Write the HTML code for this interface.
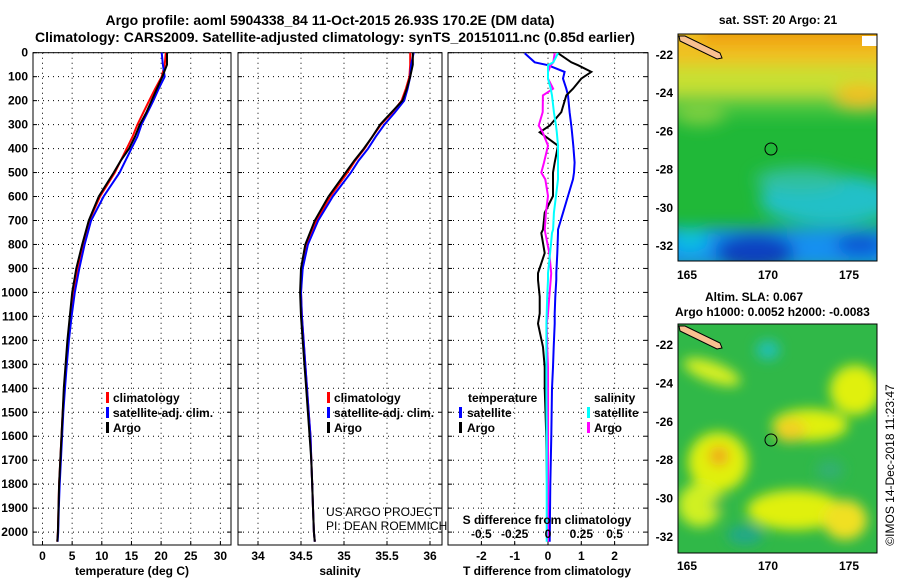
<!DOCTYPE html>
<html><head><meta charset="utf-8"><style>
body{margin:0;background:#fff}
svg{display:block;font-family:"Liberation Sans",sans-serif;font-weight:bold}
</style></head><body>
<svg id="fig" width="900" height="580" viewBox="0 0 900 580" xmlns="http://www.w3.org/2000/svg">
<defs>
<filter id="blur6"><feGaussianBlur stdDeviation="6"/></filter>
<filter id="blur10"><feGaussianBlur stdDeviation="8"/></filter>
<clipPath id="cTop"><rect x="678" y="34" width="199" height="227"/></clipPath>
<clipPath id="cBot"><rect x="678" y="324" width="199" height="229"/></clipPath>
</defs>
<text x="330" y="25" font-size="14" text-anchor="middle">Argo profile: aoml 5904338_84 11-Oct-2015 26.93S 170.2E (DM data)</text>
<text x="335" y="42" font-size="14" text-anchor="middle">Climatology: CARS2009. Satellite-adjusted climatology: synTS_20151011.nc (0.85d earlier)</text>

<g id="grids"></g>
<g id="lines"></g>
<g id="labels" font-size="12"></g>

<g font-size="12">
<rect x="106" y="392" width="3" height="11" fill="#f00"/><text x="113" y="402">climatology</text>
<rect x="106" y="407" width="3" height="11" fill="#00f"/><text x="113" y="417">satellite-adj. clim.</text>
<rect x="106" y="422" width="3" height="11" fill="#000"/><text x="113" y="432">Argo</text>
</g>
<g font-size="12">
<rect x="327" y="392" width="3" height="11" fill="#f00"/><text x="334" y="402">climatology</text>
<rect x="327" y="407" width="3" height="11" fill="#00f"/><text x="334" y="417">satellite-adj. clim.</text>
<rect x="327" y="422" width="3" height="11" fill="#000"/><text x="334" y="432">Argo</text>
</g>
<g font-size="12">
<text x="468" y="402">temperature</text>
<rect x="459" y="407" width="3" height="11" fill="#00f"/><text x="467" y="417">satellite</text>
<rect x="459" y="422" width="3" height="11" fill="#000"/><text x="467" y="432">Argo</text>
<text x="594" y="402">salinity</text>
<rect x="587" y="407" width="3" height="11" fill="#0ff"/><text x="594" y="417">satellite</text>
<rect x="587" y="422" width="3" height="11" fill="#f0f"/><text x="594" y="432">Argo</text>
</g>
<text x="326" y="516" font-size="12" font-weight="normal">US ARGO PROJECT</text>
<text x="326" y="530" font-size="12" font-weight="normal">PI: DEAN ROEMMICH</text>
<text x="547" y="524" font-size="12" text-anchor="middle">S difference from climatology</text>
<text x="132" y="575" font-size="12" text-anchor="middle">temperature (deg C)</text>
<text x="340" y="575" font-size="12" text-anchor="middle">salinity</text>
<text x="547" y="575" font-size="12" text-anchor="middle">T difference from climatology</text>

<text x="778" y="24" font-size="12" text-anchor="middle">sat. SST: 20 Argo: 21</text>
<g clip-path="url(#cTop)">
<rect x="678" y="34" width="199" height="227" fill="#20b838"/>
<g filter="url(#blur10)">
<rect x="660" y="90" width="240" height="25" fill="#50c840"/>
<rect x="660" y="60" width="240" height="35" fill="#c8e030"/>
<rect x="660" y="20" width="240" height="45" fill="#f0c020"/>
<rect x="700" y="20" width="180" height="25" fill="#f0a010"/>
<ellipse cx="700" cy="115" rx="25" ry="10" fill="#80d040"/>
<ellipse cx="860" cy="95" rx="25" ry="12" fill="#f0c020"/>
<ellipse cx="830" cy="200" rx="70" ry="25" fill="#20c0c8"/>
<ellipse cx="800" cy="180" rx="45" ry="12" fill="#30c0a0"/>
<rect x="660" y="228" width="240" height="40" fill="#1890f0"/>
<ellipse cx="690" cy="240" rx="18" ry="12" fill="#10c0e0"/>
<ellipse cx="755" cy="252" rx="40" ry="18" fill="#1040c0"/>
<ellipse cx="860" cy="245" rx="25" ry="10" fill="#1050d0"/>
</g>
<path d="M679,36 L685,36 L720,53 L722,58 L717,59 L680,41 Z" fill="#f8c090" stroke="#000" stroke-width="1"/>
<rect x="862" y="36" width="15" height="10" fill="#fff"/>
<circle cx="771" cy="149" r="6" fill="none" stroke="#000"/>
</g>
<rect x="678" y="34" width="199" height="227" fill="none" stroke="#000"/>

<text x="705" y="301" font-size="12">Altim. SLA: 0.067</text>
<text x="675" y="316" font-size="12">Argo h1000: 0.0052 h2000: -0.0083</text>
<g clip-path="url(#cBot)">
<rect x="678" y="324" width="199" height="229" fill="#30b848"/>
<g filter="url(#blur6)">
<ellipse cx="712" cy="372" rx="30" ry="10" fill="#d8f020" transform="rotate(20 712 372)"/>
<ellipse cx="768" cy="350" rx="12" ry="10" fill="#20c0b0"/>
<ellipse cx="855" cy="390" rx="25" ry="25" fill="#e0f010"/>
<ellipse cx="810" cy="425" rx="38" ry="16" fill="#e0f010"/>
<ellipse cx="790" cy="430" rx="16" ry="12" fill="#f0d020"/>
<ellipse cx="718" cy="462" rx="30" ry="30" fill="#e0f010"/>
<ellipse cx="719" cy="456" rx="10" ry="10" fill="#f0a818"/>
<ellipse cx="700" cy="505" rx="22" ry="22" fill="#d0f020"/>
<ellipse cx="795" cy="510" rx="48" ry="20" fill="#e0f010"/>
<ellipse cx="845" cy="520" rx="22" ry="20" fill="#f0e020"/>
<ellipse cx="745" cy="535" rx="18" ry="10" fill="#20a888"/>
<ellipse cx="720" cy="505" rx="10" ry="6" fill="#30b848"/>
<ellipse cx="830" cy="470" rx="14" ry="10" fill="#30b070"/>
</g>
<path d="M679,326 L685,326 L720,343 L722,348 L717,349 L680,331 Z" fill="#f8c090" stroke="#000" stroke-width="1"/>
<circle cx="771" cy="440" r="6" fill="none" stroke="#000"/>
</g>
<rect x="678" y="324" width="199" height="229" fill="none" stroke="#000"/>
<text transform="translate(894,465) rotate(-90)" font-size="12" font-weight="normal" text-anchor="middle">©IMOS 14-Dec-2018 11:23:47</text>
</svg>
<script>
// ---- data ----
const depth = [0,50,100,150,200,250,300,350,400,450,500,600,700,800,900,1000,1100,1200,1300,1400,1500,1600,1700,1800,1900,2000,2040];
const argoT = [21.0,21.0,20.2,19.3,18.4,17.5,16.4,15.6,14.6,13.2,12.0,9.5,7.8,6.7,5.7,5.0,4.6,4.2,3.9,3.6,3.4,3.2,3.0,2.8,2.7,2.6,2.5];
const climT = [20.8,20.6,20.1,19.0,18.0,17.0,16.0,15.2,14.2,13.2,12.2,9.7,7.9,6.8,5.9,5.2,4.7,4.3,4.0,3.7,3.4,3.2,3.0,2.8,2.7,2.6,2.5];
const satT  = [20.1,20.3,20.6,19.6,18.7,17.7,16.7,16.0,15.0,14.0,13.0,10.3,8.2,7.1,6.2,5.45,4.9,4.45,4.1,3.8,3.5,3.3,3.1,2.9,2.75,2.65,2.55];
const argoS = [35.80,35.80,35.77,35.73,35.68,35.55,35.42,35.33,35.23,35.12,35.02,34.82,34.66,34.55,34.50,34.49,34.50,34.52,34.54,34.56,34.58,34.60,34.62,34.63,34.64,34.65,34.66];
const climS = [35.77,35.77,35.76,35.72,35.67,35.56,35.43,35.33,35.24,35.13,35.04,34.84,34.68,34.57,34.51,34.50,34.51,34.53,34.55,34.57,34.59,34.61,34.62,34.63,34.64,34.65,34.66];
const satS  = [35.81,35.78,35.77,35.74,35.70,35.59,35.47,35.37,35.28,35.17,35.08,34.87,34.70,34.58,34.52,34.50,34.51,34.53,34.55,34.57,34.59,34.61,34.62,34.63,34.64,34.65,34.66];
const diffDepth = [2,40,52,80,108,150,178,248,304,332,388,458,500,528,598,668,738,752,836,920,948,1018,1088,1130,1228,1312,1400,1600,1800,2040];
const argoDT = [0.3,0.7,0.9,1.3,1.0,0.75,0.55,0.4,0.05,-0.25,0.3,0.2,0.15,0.15,0.15,-0.1,-0.15,-0.2,-0.1,-0.3,-0.3,-0.25,-0.25,-0.3,-0.15,-0.1,-0.1,-0.05,-0.03,0.0];
const satDT  = [-0.7,-0.4,0.0,0.5,0.45,0.55,0.6,0.65,0.7,0.72,0.76,0.8,0.78,0.75,0.6,0.45,0.3,0.3,0.28,0.25,0.25,0.22,0.2,0.2,0.17,0.15,0.12,0.1,0.07,0.05];
const satDS  = [0.075,0.04,0.0,0.0,0.0,0.02,0.03,0.044,0.06,0.066,0.075,0.075,0.075,0.075,0.06,0.044,0.038,0.03,0.016,0.0,0.0,-0.006,-0.01,-0.012,-0.012,-0.012,-0.012,-0.01,-0.01,-0.01];
const argoDS = [0.05,0.04,0.02,0.0,0.0,0.038,-0.038,-0.04,-0.07,-0.04,0.0,-0.03,-0.05,-0.02,0.0,-0.016,-0.024,-0.02,0.01,0.024,0.02,0.01,0.0,-0.01,-0.006,0.0,0.0,0.0,0.0,0.0];
const depthTicks = [0,100,200,300,400,500,600,700,800,900,1000,1100,1200,1300,1400,1500,1600,1700,1800,1900,2000];
const tTicks = [0,5,10,15,20,25,30];
const sTicks = [34,34.5,35,35.5,36];
const dtTicks = [-2,-1,0,1,2];
const dsTicks = [-0.5,-0.25,0,0.25,0.5];
const latTicks = [-22,-24,-26,-28,-30,-32];
const lonTicks = [165,170,175];

// ---- scales ----
const yD = d => 52.7 + d*0.2397;
const xT = t => 42.5 + t*5.93;
const xS = s => 258 + (s-34)*86;
const xDT = t => 548 + t*33.3;
const xDS = s => 548 + s*133.3;
const yLatTop = l => 55 + (-22-l)*19.1;
const yLatBot = l => 345 + (-22-l)*19.2;
const xLon = l => 687 + (l-165)*16.2;

const NS = 'http://www.w3.org/2000/svg';
const G = document.getElementById('grids'), L = document.getElementById('lines'), T = document.getElementById('labels');
function mk(tag, attrs, parent){const e=document.createElementNS(NS,tag);for(const k in attrs)e.setAttribute(k,attrs[k]);parent.appendChild(e);return e;}
function txt(x,y,s,anchor,parent){const e=mk('text',{x:x,y:y,'text-anchor':anchor},parent);e.textContent=s;return e;}

const panels = [[33,231,'temperature'],[238,442,'salinity'],[448,648,'difference']];
const xGrids = [tTicks.map(xT), sTicks.map(xS), dtTicks.map(xDT)];
panels.forEach((p,i)=>{
  depthTicks.forEach(d=>{
    const ln = mk('line',{x1:p[0],x2:p[1],y1:yD(d),y2:yD(d),stroke:'#000','stroke-dasharray':'1,4'},G);
    
    
    mk('line',{x1:p[0],x2:p[0]+4,y1:yD(d),y2:yD(d),stroke:'#000'},G);
    mk('line',{x1:p[1]-4,x2:p[1],y1:yD(d),y2:yD(d),stroke:'#000'},G);
  });
  xGrids[i].forEach(x=>{
    const ln = mk('line',{x1:x,x2:x,y1:52.7,y2:545,stroke:'#000','stroke-dasharray':'1,4'},G);
    
    
    mk('line',{x1:x,x2:x,y1:541,y2:545,stroke:'#000'},G);
  });
  const fr = mk('rect',{x:p[0],y:52.7,width:p[1]-p[0],height:492.3,fill:'none',stroke:'#000'},G);
  
  
});

depthTicks.forEach(d=>{
  const e = txt(28,yD(d)+4,String(d),'end',T);
  
  
});
tTicks.forEach(t=>{const e=txt(xT(t),560,String(t),'middle',T);
  
  });
sTicks.forEach(s=>{const e=txt(xS(s),560,String(s),'middle',T);
  
  });
dtTicks.forEach(t=>{const e=txt(xDT(t),560,String(t),'middle',T);
  
  });
dsTicks.forEach(s=>{const e=txt(xDS(s),538,String(s),'middle',T);
  
  });
latTicks.forEach(l=>{
  let e=txt(673,yLatTop(l)+4,String(l),'end',T);
  
  
  mk('line',{x1:678,x2:682,y1:yLatTop(l),y2:yLatTop(l),stroke:'#000'},T);
  e=txt(673,yLatBot(l)+4,String(l),'end',T);
  
  
  mk('line',{x1:678,x2:682,y1:yLatBot(l),y2:yLatBot(l),stroke:'#000'},T);
});
lonTicks.forEach(l=>{
  let e=txt(xLon(l),279,String(l),'middle',T);
  
  
  mk('line',{x1:xLon(l),x2:xLon(l),y1:257,y2:261,stroke:'#000'},T);
  e=txt(xLon(l),570,String(l),'middle',T);
  
  
  mk('line',{x1:xLon(l),x2:xLon(l),y1:549,y2:553,stroke:'#000'},T);
});

function profile(vals, dep, xf, color, name){
  const pts = vals.map((v,i)=>xf(v).toFixed(1)+','+yD(dep[i]).toFixed(1)).join(' ');
  const pl = mk('polyline',{points:pts,fill:'none',stroke:color,'stroke-width':2},L);
  
  
}
profile(climT, depth, xT, '#f00', 'temperature-climatology-line');
profile(satT, depth, xT, '#00f', 'temperature-satellite-line');
profile(argoT, depth, xT, '#000', 'temperature-argo-line');
profile(climS, depth, xS, '#f00', 'salinity-climatology-line');
profile(satS, depth, xS, '#00f', 'salinity-satellite-line');
profile(argoS, depth, xS, '#000', 'salinity-argo-line');
profile(satDT, diffDepth, xDT, '#00f', 't-diff-satellite-line');
profile(argoDT, diffDepth, xDT, '#000', 't-diff-argo-line');
profile(argoDS, diffDepth, xDS, '#f0f', 's-diff-argo-line');
profile(satDS, diffDepth, xDS, '#0ff', 's-diff-satellite-line');
</script>
</body></html>
